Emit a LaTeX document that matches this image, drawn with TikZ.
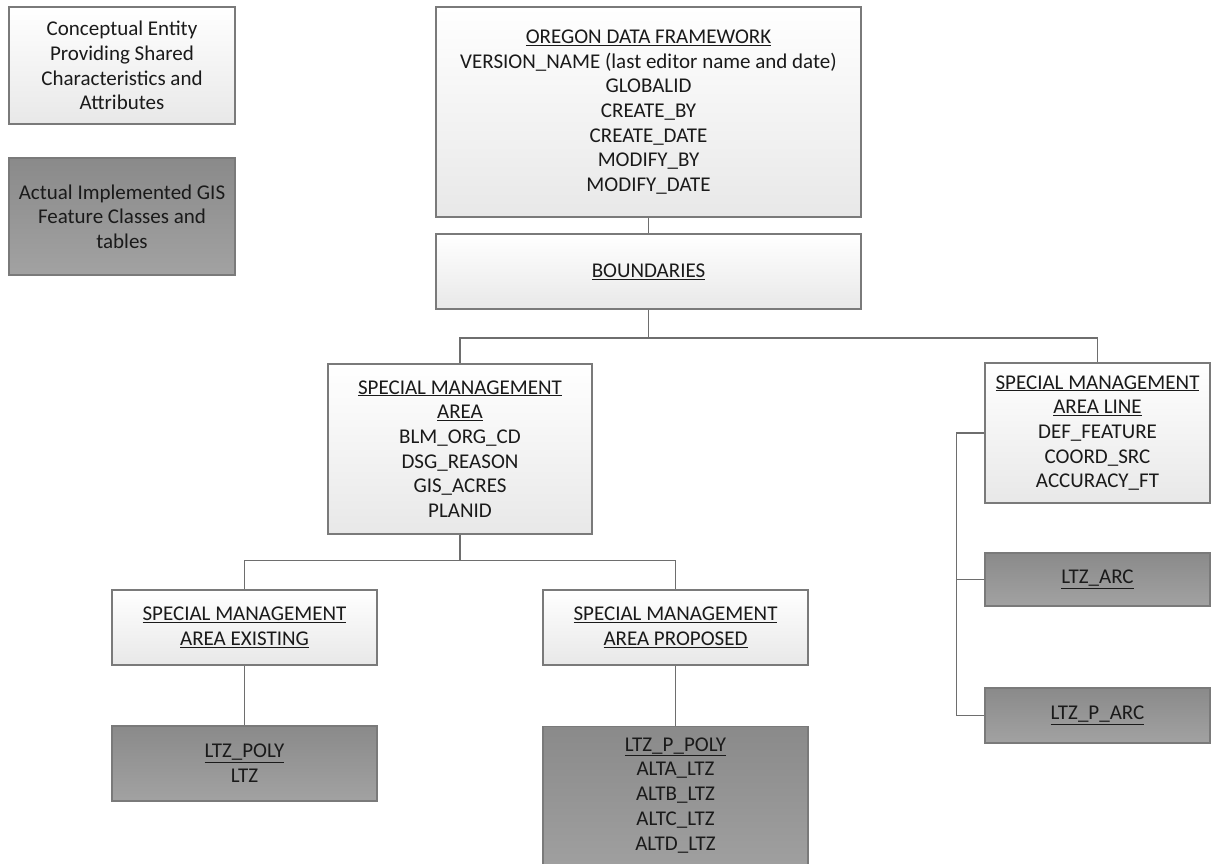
\documentclass[tikz,border=0pt]{standalone}
\usepackage{fontspec}
\setmainfont{Carlito}
\usetikzlibrary{shadows}
\definecolor{edgecol}{HTML}{7A7A7A}
\definecolor{conncol}{HTML}{6E6E6E}
\definecolor{lighttop}{HTML}{FFFFFF}
\definecolor{lightbot}{HTML}{E8E8E8}
\definecolor{darktop}{HTML}{8A8A8A}
\definecolor{darkbot}{HTML}{A2A2A2}
\definecolor{txt}{HTML}{1A1A1A}
\tikzset{
  basebox/.style={draw=edgecol, line width=1.3pt, align=center, inner sep=0pt,
    font=\fontsize{21}{24.7}\selectfont, text=txt,
    drop shadow={shadow xshift=1.3pt, shadow yshift=-1.3pt, opacity=0.3, fill=black}},
  concept/.style={basebox, top color=lighttop, bottom color=lightbot},
  impl/.style={basebox, top color=darktop, bottom color=darkbot},
  conn/.style={draw=conncol, line width=1.6pt}
}
\begin{document}
\begin{tikzpicture}[x=1pt, y=-1pt]
\useasboundingbox (0,0) rectangle (1212,863);
\fill[white] (0,0) rectangle (1212,863);

% legend
\node[concept, minimum width=226, minimum height=117] (leg1) at (122,65.5)
  {Conceptual Entity\\Providing Shared\\Characteristics and\\Attributes};
\node[impl, minimum width=226, minimum height=117] (leg2) at (122,216.5)
  {Actual Implemented GIS\\Feature Classes and\\tables};

% main tree
\node[concept, minimum width=425, minimum height=210] (oregon) at (648.5,112)
  {\underline{OREGON DATA FRAMEWORK}\\VERSION\_NAME (last editor name and date)\\GLOBALID\\CREATE\_BY\\CREATE\_DATE\\MODIFY\_BY\\MODIFY\_DATE};
\node[concept, minimum width=425, minimum height=75] (bound) at (648.5,271.5)
  {\underline{BOUNDARIES}};

\node[concept, minimum width=264, minimum height=170] (sma) at (460,449)
  {\underline{SPECIAL MANAGEMENT}\\\underline{AREA}\\BLM\_ORG\_CD\\DSG\_REASON\\GIS\_ACRES\\PLANID};
\node[concept, minimum width=225, minimum height=140] (smal) at (1097.5,433)
  {\underline{SPECIAL MANAGEMENT}\\\underline{AREA LINE}\\DEF\_FEATURE\\COORD\_SRC\\ACCURACY\_FT};

\node[concept, minimum width=265, minimum height=75] (exist) at (244.5,627.5)
  {\underline{SPECIAL MANAGEMENT}\\\underline{AREA EXISTING}};
\node[concept, minimum width=265, minimum height=75] (prop) at (675.5,627.5)
  {\underline{SPECIAL MANAGEMENT}\\\underline{AREA PROPOSED}};

\node[impl, minimum width=265, minimum height=75] (ltzpoly) at (244.5,763.5)
  {\underline{LTZ\_POLY}\\LTZ};
\node[impl, minimum width=265, anchor=north, inner ysep=11pt, text depth=22pt] (ltzppoly) at (675.5,726)
  {\underline{LTZ\_P\_POLY}\\ALTA\_LTZ\\ALTB\_LTZ\\ALTC\_LTZ\\ALTD\_LTZ};

\node[impl, minimum width=225, minimum height=53] (ltzarc) at (1097.5,579.5)
  {\underline{LTZ\_ARC}};
\node[impl, minimum width=225, minimum height=55] (ltzparc) at (1097.5,715.5)
  {\underline{LTZ\_P\_ARC}};

% connectors
\draw[conn] (oregon.south) -- (bound.north);
\draw[conn] (bound.south) -- ++(0,28.5) -| (sma.north);
\draw[conn] (bound.south) -- ++(0,28.5) -| (smal.north);
\draw[conn] (sma.south) -- ++(0,26) -| (exist.north);
\draw[conn] (sma.south) -- ++(0,26) -| (prop.north);
\draw[conn] (exist.south) -- (ltzpoly.north);
\draw[conn] (prop.south) -- (ltzppoly.north);
\coordinate (trunk) at ([xshift=-28pt]smal.west);
\draw[conn] (smal.west) -- (trunk) |- (ltzparc.west);
\draw[conn] (ltzarc.west) -- (trunk |- ltzarc.west);
\end{tikzpicture}
\end{document}
